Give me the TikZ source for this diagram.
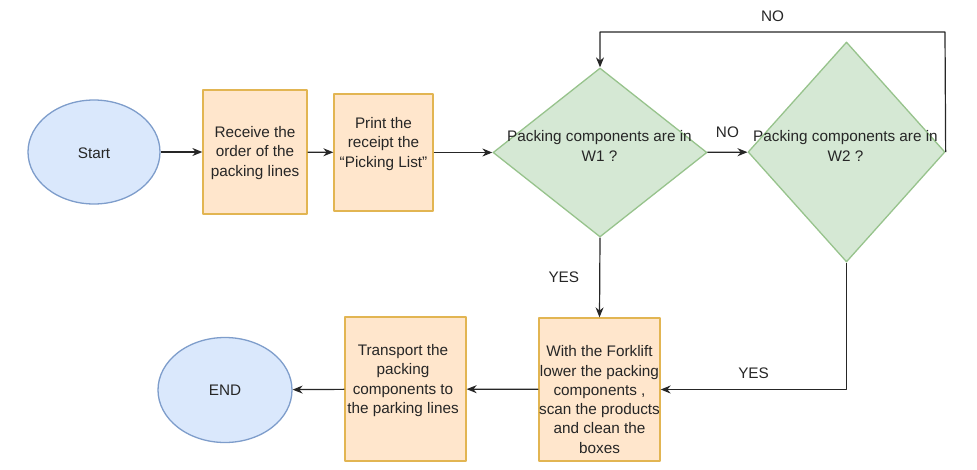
\documentclass[tikz,border=0pt]{standalone}
\usepackage{fontspec}
\setmainfont{Liberation Sans}
\usetikzlibrary{shapes.geometric,arrows.meta}
\definecolor{termfill}{HTML}{DAE8FC}
\definecolor{termline}{HTML}{7E9DCB}
\definecolor{taskfill}{HTML}{FFE6CC}
\definecolor{taskline}{HTML}{E2B552}
\definecolor{askfill}{HTML}{D5E8D4}
\definecolor{askline}{HTML}{97C38C}
\begin{document}
\begin{tikzpicture}[>={Stealth[length=10pt,width=8pt]}, x=1pt, y=-1pt, line join=round,
	term/.style={ellipse, draw=termline, fill=termfill, line width=1.3pt, inner sep=0pt},
	task/.style={rectangle, draw=taskline, fill=taskfill, line width=1.3pt, inner sep=0pt},
	ask/.style={diamond, draw=askline, fill=askfill, line width=1.3pt, inner sep=0pt},
	txt/.style={align=center, inner sep=0pt, font=\fontsize{15.3}{19.3}\selectfont, text=black!85},
	flow/.style={->, line width=1.2pt, draw=black!85}]
			\useasboundingbox (0,0) rectangle (977,469);
			% shapes
			\node[term, minimum width=132pt, minimum height=104pt] (start) at (94,152) {};
			\node[task, minimum width=104pt, minimum height=124pt] (recv) at (255,152) {};
			\node[task, minimum width=99pt, minimum height=117pt] (print) at (383.5,152.5) {};
			\node[ask, minimum width=214pt, minimum height=169pt] (w1) at (600,152.5) {};
			\node[ask, minimum width=197pt, minimum height=220pt] (w2) at (846.5,152) {};
			\node[task, minimum width=121pt, minimum height=143pt] (fork) at (599.5,389.5) {};
			\node[task, minimum width=121pt, minimum height=144pt] (move) at (405.5,389) {};
			\node[term, minimum width=134pt, minimum height=105pt] (end) at (225,390) {};
			% texts
			\node[txt] (startt) at (94,153) {Start};
			\node[txt] (recvt) at (255,153) {Receive the\\order of the\\packing lines};
			\node[txt] (printt) at (383.5,144) {Print the\\receipt the\\“Picking List”};
			\node[txt] (w1t) at (599.5,146) {Packing components are in\\W1 ?};
			\node[txt] (w2t) at (845.5,146) {Packing components are in\\W2 ?};
			\node[txt] (forkt) at (599.5,399.5) {With the Forklift\\lower the packing\\components ,\\scan the products\\and clean the\\boxes};
			\node[txt] (movet) at (403,380.5) {Transport the\\packing\\components to\\the parking lines};
			\node[txt] (endt) at (225,390) {END};
			% connectors
			\coordinate (back) at (945,32);
			\draw[flow] (start) -- (recv);
			\draw[flow] (recv) -- (print);
			\draw[flow] (print) -- (w1);
			\draw[flow] (w1) -- (w2) node[txt, pos=0.5, above=14pt] (no1) {NO};
			\draw[flow] (w2.east) -- (back) -| (w1.north) node[txt, pos=0.25, above=10pt] (no2) {NO};
			\draw[flow] (w1.south) -- (fork.north) node[txt, pos=0.5, left=20pt] (yes1) {YES};
			\draw[flow] (w2.south) |- (fork.east) node[txt, pos=0.75, above=10pt] (yes2) {YES};
			\draw[flow] (fork) -- (move);
			\draw[flow] (move) -- (end);
\end{tikzpicture}
\end{document}
